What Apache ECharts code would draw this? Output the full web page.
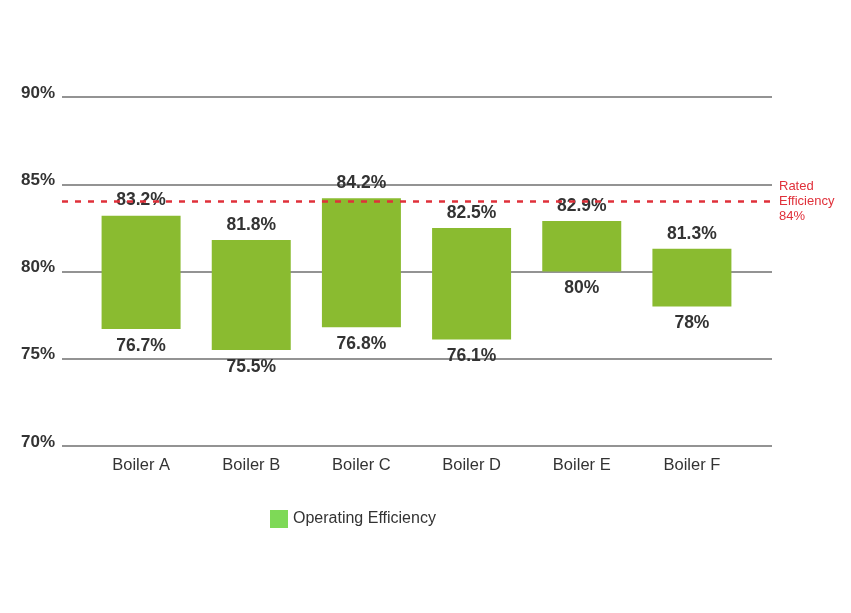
<!DOCTYPE html>
<html>
<head>
<meta charset="utf-8">
<script src="https://cdn.jsdelivr.net/npm/echarts@6/dist/echarts.min.js"></script>
<style>html,body{margin:0;padding:0;background:#fff}#c{width:851px;height:613px}</style>
</head>
<body>
<div id="c"></div>
<script>
var categories = ['Boiler A', 'Boiler B', 'Boiler C', 'Boiler D', 'Boiler E', 'Boiler F'];
var lowValues = [76.7, 75.5, 76.8, 76.1, 80, 78];
var highValues = [83.2, 81.8, 84.2, 82.5, 82.9, 81.3];
var ratedEfficiency = 84;
var yMin = 70, yMax = 90, yStep = 5;

var FONT = '"Liberation Sans", Arial, sans-serif';
var baseValues = lowValues.map(function (v) { return v - yMin; });
var spanValues = highValues.map(function (h, i) { return +(h - lowValues[i]).toFixed(2); });

var chart = echarts.init(document.getElementById('c'));
chart.setOption({
  animation: false,
  backgroundColor: '#ffffff',
  textStyle: { fontFamily: FONT },
  grid: [
    { left: 62, right: 79, top: 97, bottom: 167 },
    { left: 86, right: 104, top: 97, bottom: 167 }
  ],
  legend: {
    left: 265, top: 505,
    icon: 'rect', itemWidth: 18, itemHeight: 18, itemGap: 10,
    textStyle: { fontFamily: FONT, fontSize: 16, color: '#333' },
    data: [{ name: 'Operating Efficiency', itemStyle: { color: '#7ed957' } }]
  },
  xAxis: [
    { type: 'value', gridIndex: 0, show: false, min: 0, max: 1 },
    {
      type: 'category', gridIndex: 1, data: categories,
      axisLine: { show: false }, axisTick: { show: false },
      axisLabel: { fontFamily: FONT, fontSize: 16.5, color: '#333', margin: 11 }
    }
  ],
  yAxis: [
    {
      type: 'value', gridIndex: 0, min: yMin, max: yMax, interval: yStep,
      axisLine: { show: false }, axisTick: { show: false },
      axisLabel: {
        fontFamily: FONT, fontSize: 17, fontWeight: 'bold', color: '#333', margin: 7,
        verticalAlign: 'bottom', lineHeight: 8,
        formatter: function (v) { return v + '%'; }
      },
      splitLine: { lineStyle: { color: '#6f6f6f', width: 1.5 } }
    },
    {
      type: 'value', gridIndex: 1, min: 0, max: yMax - yMin, interval: yStep,
      show: false
    }
  ],
  series: [
    {
      name: 'rated', type: 'line', xAxisIndex: 0, yAxisIndex: 0, data: [],
      silent: true,
      markLine: {
        symbol: 'none', silent: true,
        lineStyle: { color: '#e0303a', type: [6, 7], width: 2.5 },
        label: {
          show: true, position: 'end', distance: 7,
          fontFamily: FONT, fontSize: 13, color: '#e0303a', lineHeight: 15,
          formatter: 'Rated\nEfficiency\n' + ratedEfficiency + '%'
        },
        data: [{ yAxis: ratedEfficiency }]
      }
    },
    {
      name: 'base', type: 'bar', xAxisIndex: 1, yAxisIndex: 1, stack: 'eff',
      data: baseValues, barWidth: 79, silent: true,
      itemStyle: { color: 'rgba(0,0,0,0)' },
      label: {
        show: true, position: 'insideTop', distance: 8,
        fontFamily: FONT, fontSize: 17.5, fontWeight: 'bold', color: '#333',
        formatter: function (p) { return lowValues[p.dataIndex] + '%'; }
      }
    },
    {
      name: 'Operating Efficiency', type: 'bar', xAxisIndex: 1, yAxisIndex: 1, stack: 'eff',
      data: spanValues, barWidth: 79,
      itemStyle: { color: '#8abb30' },
      label: {
        show: true, position: 'top', distance: 6,
        fontFamily: FONT, fontSize: 17.5, fontWeight: 'bold', color: '#333',
        formatter: function (p) { return highValues[p.dataIndex] + '%'; }
      }
    }
  ]
});
</script>
</body>
</html>
